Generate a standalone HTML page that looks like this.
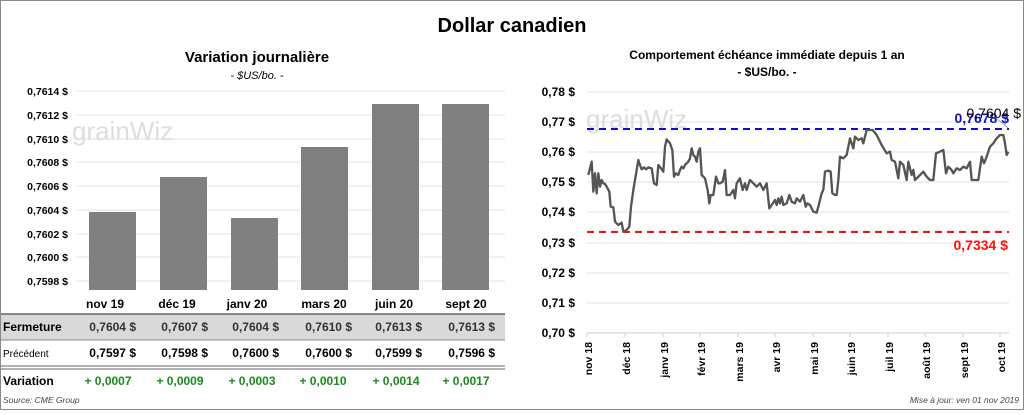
<!DOCTYPE html>
<html><head><meta charset="utf-8"><style>
body{margin:0;width:1024px;height:410px;overflow:hidden;background:#fff;font-family:"Liberation Sans",sans-serif}
</style></head><body>
<svg width="1024" height="410" xmlns="http://www.w3.org/2000/svg" font-family="Liberation Sans, sans-serif">
<rect x="0.5" y="0.5" width="1023" height="409" fill="#fff" stroke="#888"/>
<text x="512" y="32" text-anchor="middle" font-size="20" font-weight="bold">Dollar canadien</text>
<!-- left chart -->
<text x="257" y="62" text-anchor="middle" font-size="15" font-weight="bold">Variation  journalière</text>
<text x="257" y="79" text-anchor="middle" font-size="11" font-style="italic">- $US/bo. -</text>
<g stroke="#e0e0e0" stroke-width="1">
<line x1="76" x2="505" y1="91" y2="91"/><line x1="76" x2="505" y1="115" y2="115"/><line x1="76" x2="505" y1="139" y2="139"/><line x1="76" x2="505" y1="162" y2="162"/><line x1="76" x2="505" y1="186" y2="186"/><line x1="76" x2="505" y1="210" y2="210"/><line x1="76" x2="505" y1="234" y2="234"/><line x1="76" x2="505" y1="257" y2="257"/><line x1="76" x2="505" y1="281" y2="281"/>
</g>
<g font-size="10.5" font-weight="bold" text-anchor="end">
<text x="68" y="95">0,7614 $</text><text x="68" y="119">0,7612 $</text><text x="68" y="143">0,7610 $</text><text x="68" y="166">0,7608 $</text><text x="68" y="190">0,7606 $</text><text x="68" y="214">0,7604 $</text><text x="68" y="238">0,7602 $</text><text x="68" y="261">0,7600 $</text><text x="68" y="285">0,7598 $</text>
</g>
<g fill="#808080">
<rect x="89" y="212" width="47" height="78"/><rect x="160" y="177" width="47" height="113"/><rect x="231" y="218" width="47" height="72"/><rect x="301" y="147" width="47" height="143"/><rect x="372" y="104" width="47" height="186"/><rect x="442" y="104" width="47" height="186"/>
</g>
<g font-size="12" font-weight="bold" text-anchor="middle">
<text x="105" y="308">nov 19</text><text x="177" y="308">déc 19</text><text x="247" y="308">janv 20</text><text x="324" y="308">mars 20</text><text x="394" y="308">juin 20</text><text x="466" y="308">sept 20</text>
</g>
<rect x="1" y="314" width="504" height="26" fill="#d9d9d9"/>
<line x1="1" x2="505" y1="314" y2="314" stroke="#666" stroke-width="1.5"/>
<line x1="1" x2="505" y1="340" y2="340" stroke="#888"/>
<line x1="1" x2="505" y1="366" y2="366" stroke="#666"/>
<line x1="1" x2="505" y1="369" y2="369" stroke="#666"/>
<g font-size="12" font-weight="bold">
<text x="3" y="331">Fermeture</text>
<text x="3" y="385">Variation</text>
</g>
<text x="3" y="357" font-size="10">Précédent</text>
<g font-size="12" font-weight="bold" text-anchor="end" fill="#333">
<text x="136" y="331">0,7604  $</text><text x="208" y="331">0,7607  $</text><text x="279" y="331">0,7604  $</text><text x="352" y="331">0,7610  $</text><text x="422" y="331">0,7613  $</text><text x="495" y="331">0,7613  $</text>
</g>
<g font-size="12" font-weight="bold" text-anchor="end" fill="#000">
<text x="136" y="357">0,7597  $</text><text x="208" y="357">0,7598  $</text><text x="279" y="357">0,7600  $</text><text x="352" y="357">0,7600  $</text><text x="422" y="357">0,7599  $</text><text x="495" y="357">0,7596  $</text>
</g>
<g font-size="12" font-weight="bold" text-anchor="middle" fill="#1a8a1a">
<text x="108" y="385">+ 0,0007</text><text x="180" y="385">+ 0,0009</text><text x="252" y="385">+ 0,0003</text><text x="323" y="385">+ 0,0010</text><text x="396" y="385">+ 0,0014</text><text x="466" y="385">+ 0,0017</text>
</g>
<text x="3" y="403" font-size="8.5" font-style="italic" fill="#444">Source: CME Group</text>
<text x="72" y="140" font-size="26" fill="#ddd">grainWiz</text>
<!-- right chart -->
<text x="767" y="59" text-anchor="middle" font-size="12" font-weight="bold">Comportement échéance immédiate depuis 1 an</text>
<text x="767" y="76" text-anchor="middle" font-size="12" font-weight="bold">- $US/bo. -</text>
<text x="586" y="128" font-size="26" fill="#ddd">grainWiz</text>
<g stroke="#e0e0e0">
<line x1="587" x2="1009" y1="92" y2="92"/><line x1="587" x2="1009" y1="122" y2="122"/><line x1="587" x2="1009" y1="152" y2="152"/><line x1="587" x2="1009" y1="182" y2="182"/><line x1="587" x2="1009" y1="212" y2="212"/><line x1="587" x2="1009" y1="243" y2="243"/><line x1="587" x2="1009" y1="273" y2="273"/><line x1="587" x2="1009" y1="303" y2="303"/>
</g>
<line x1="587" x2="1009" y1="333" y2="333" stroke="#ccc"/>
<g stroke="#ccc"><line x1="587" x2="587" y1="333" y2="337"/><line x1="625" x2="625" y1="333" y2="337"/><line x1="663" x2="663" y1="333" y2="337"/><line x1="700" x2="700" y1="333" y2="337"/><line x1="738" x2="738" y1="333" y2="337"/><line x1="775" x2="775" y1="333" y2="337"/><line x1="813" x2="813" y1="333" y2="337"/><line x1="850" x2="850" y1="333" y2="337"/><line x1="888" x2="888" y1="333" y2="337"/><line x1="925" x2="925" y1="333" y2="337"/><line x1="963" x2="963" y1="333" y2="337"/><line x1="1000" x2="1000" y1="333" y2="337"/></g>
<g font-size="12" font-weight="bold" text-anchor="end">
<text x="575" y="96">0,78 $</text><text x="575" y="126">0,77 $</text><text x="575" y="156">0,76 $</text><text x="575" y="186">0,75 $</text><text x="575" y="216">0,74 $</text><text x="575" y="247">0,73 $</text><text x="575" y="277">0,72 $</text><text x="575" y="307">0,71 $</text><text x="575" y="337">0,70 $</text>
</g>
<g font-size="10.5" font-weight="bold" text-anchor="end">
<text transform="translate(592,342) rotate(-90)">nov 18</text>
<text transform="translate(630,342) rotate(-90)">déc 18</text>
<text transform="translate(668,342) rotate(-90)">janv 19</text>
<text transform="translate(705,342) rotate(-90)">févr 19</text>
<text transform="translate(743,342) rotate(-90)">mars 19</text>
<text transform="translate(780,342) rotate(-90)">avr 19</text>
<text transform="translate(818,342) rotate(-90)">mai 19</text>
<text transform="translate(855,342) rotate(-90)">juin 19</text>
<text transform="translate(893,342) rotate(-90)">juil 19</text>
<text transform="translate(930,342) rotate(-90)">août 19</text>
<text transform="translate(968,342) rotate(-90)">sept 19</text>
<text transform="translate(1005,342) rotate(-90)">oct 19</text>
</g>
<line x1="587" x2="1009" y1="129" y2="129" stroke="#1010c0" stroke-width="2" stroke-dasharray="7,5"/>
<line x1="587" x2="1009" y1="232" y2="232" stroke="#ff1010" stroke-width="2" stroke-dasharray="7,5"/>
<g transform="translate(520,80) scale(0.33333)">
<polyline fill="none" stroke="#555" stroke-width="7" stroke-linejoin="round" points="205,285 215,245 220,335 225,280 230,340 235,280 240,320 245,300 250,310 255,312 260,320 268,335 272,380 280,382 285,425 295,435 305,428 310,455 320,450 328,440 333,380 340,330 350,270 355,240 360,255 365,268 372,262 378,268 385,262 395,265 402,310 410,315 415,255 423,265 430,275 435,200 440,178 450,190 457,210 462,290 468,280 475,285 480,270 485,260 490,265 495,255 500,250 505,245 510,235 515,205 520,225 525,230 530,245 535,215 540,205 545,285 555,295 563,330 568,370 572,345 580,345 588,290 595,310 600,310 608,305 615,270 620,345 630,345 640,330 645,355 650,310 660,295 668,330 675,310 680,330 690,300 700,310 710,320 720,310 730,330 740,310 748,385 755,375 765,360 770,375 775,355 780,370 785,350 790,375 800,370 808,345 815,365 825,370 830,355 840,365 850,345 857,380 862,370 870,375 880,395 890,398 895,380 905,340 910,330 915,275 925,272 932,275 937,340 945,345 950,345 955,300 960,230 970,235 980,225 985,200 990,175 1000,205 1005,170 1015,180 1025,175 1030,190 1040,150 1050,150 1058,150 1070,165 1085,195 1100,220 1110,215 1115,240 1125,245 1135,295 1140,245 1150,255 1160,300 1165,245 1175,285 1180,270 1185,300 1195,290 1210,275 1220,290 1230,300 1240,300 1248,220 1260,215 1270,210 1278,280 1285,260 1295,270 1300,280 1310,265 1320,270 1330,260 1340,265 1350,245 1355,300 1365,300 1375,300 1385,230 1392,250 1400,230 1410,200 1420,190 1430,175 1440,165 1450,165 1455,190 1460,225 1465,215"/>
</g>
<line x1="995" x2="1008" y1="117" y2="128" stroke="#aaa"/>
<text x="1009" y="123" text-anchor="end" font-size="14" font-weight="bold" fill="#1010c0">0,7678 $</text>
<text x="1021" y="118" text-anchor="end" font-size="14" fill="#000">0,7604 $</text>
<text x="1008" y="250" text-anchor="end" font-size="14" font-weight="bold" fill="#ff1010">0,7334 $</text>
<text x="1019" y="403" text-anchor="end" font-size="8.5" font-style="italic" fill="#444">Mise à jour: ven 01 nov 2019</text>
</svg>
</body></html>
